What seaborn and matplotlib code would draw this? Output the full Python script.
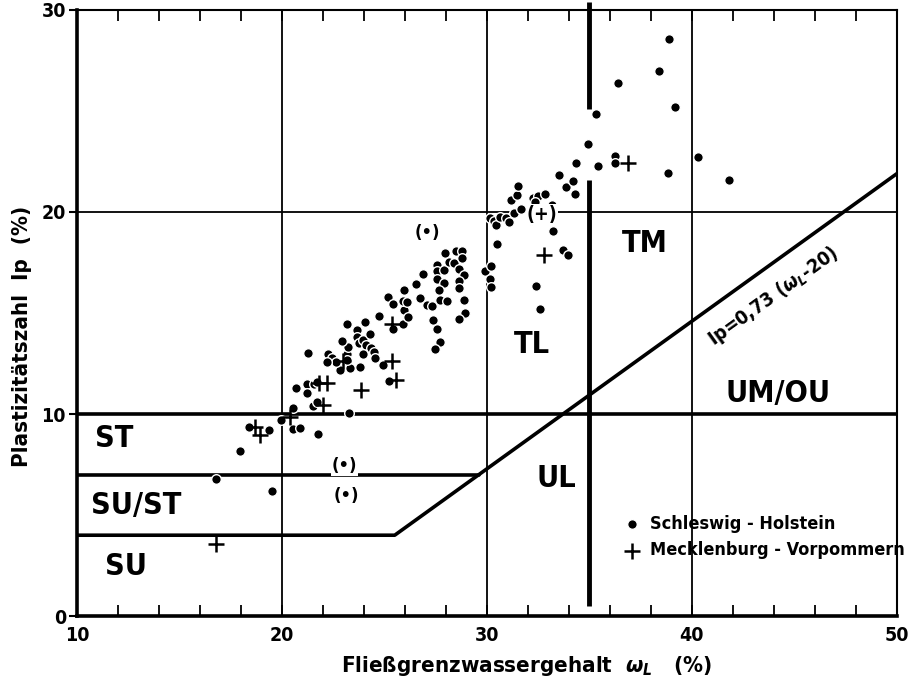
import matplotlib
matplotlib.use("Agg")
import matplotlib.pyplot as plt
import seaborn as sns
from matplotlib.ticker import MultipleLocator

# Schleswig-Holstein samples (dots): liquid limit wL (%) and plasticity index Ip (%)
sh_wl = [16.8, 17.95, 18.4, 19.35, 19.5, 19.97, 20.55, 20.55, 20.88, 21.76, 23.28,
         20.7, 21.2, 21.2, 21.25, 21.54, 21.73, 21.49, 21.73, 25.2, 24.94, 23.82,
         23.3, 22.84, 22.25, 22.43, 22.63, 22.22, 23.19, 23.19, 23.24, 22.95, 23.16,
         23.65, 23.68, 23.76, 24.04, 23.97, 24.29, 24.08, 24.33, 24.49, 24.52, 23.95,
         24.73, 25.19, 25.41, 25.41, 25.9, 25.95, 25.9, 26.11, 26.16, 25.95, 26.56,
         26.73, 26.89, 27.08, 27.33, 27.36, 27.54, 27.73, 27.46, 27.57, 27.57, 27.89,
         27.57, 27.92, 27.65, 27.73, 28.05, 27.97, 28.13, 28.41, 28.5, 28.78, 28.78,
         28.62, 28.9, 28.62, 28.62, 28.86, 28.91, 28.64, 29.92, 30.19, 30.15, 30.2,
         30.5, 32.38, 32.59, 33.7, 33.97, 33.21, 32.14, 30.16, 30.32, 30.45, 30.62,
         30.94, 31.1, 31.3, 31.67, 33.16, 32.24, 32.51, 32.35, 32.84, 31.17, 31.46,
         31.51, 34.3, 33.85, 34.2, 33.52, 34.34, 35.4, 36.23, 36.25, 38.82, 40.28,
         41.8, 34.95, 35.32, 36.38, 38.37, 38.9, 39.18]
sh_ip = [6.8, 8.15, 9.35, 9.2, 6.2, 9.7, 10.28, 9.28, 9.32, 9.03, 10.06,
         11.28, 11.5, 11.04, 13.02, 11.5, 11.6, 10.41, 10.61, 11.62, 12.44, 12.31,
         12.28, 12.16, 12.99, 12.77, 12.56, 12.56, 12.99, 12.69, 13.32, 13.6, 14.46,
         14.14, 13.8, 13.51, 14.54, 13.68, 13.98, 13.43, 13.27, 13.05, 12.77, 12.99,
         14.87, 15.78, 15.46, 14.22, 14.47, 15.16, 15.58, 15.53, 14.8, 16.12, 16.45,
         15.74, 16.93, 15.41, 15.33, 14.67, 14.21, 13.55, 13.22, 17.39, 17.06, 17.14,
         16.68, 16.49, 16.16, 15.66, 15.58, 17.97, 17.51, 17.48, 18.05, 18.09, 17.72,
         17.18, 16.9, 16.57, 16.24, 15.63, 15.0, 14.7, 17.08, 17.33, 16.67, 16.27,
         18.4, 16.34, 15.21, 18.1, 17.89, 19.06, 19.59, 19.7, 19.54, 19.37, 19.75,
         19.7, 19.5, 19.97, 20.17, 20.36, 20.71, 20.78, 20.5, 20.87, 20.58, 20.83,
         21.29, 20.9, 21.25, 21.55, 21.85, 22.45, 22.3, 22.75, 22.45, 21.95, 22.72,
         21.6, 23.35, 24.85, 26.4, 27.0, 28.55, 25.22]

# Mecklenburg-Vorpommern samples (crosses)
mv_wl = [16.8, 18.7, 18.95, 20.37, 21.8, 22.2, 22.0, 23.84, 25.38, 25.54, 25.35, 23.0, 32.79, 36.87]
mv_ip = [3.55, 9.35, 8.95, 9.85, 11.53, 11.55, 10.46, 11.2, 12.64, 11.7, 14.47, 12.6, 17.85, 22.45]

# values printed in brackets
sh_bracket_wl = [27.08, 23.05, 23.13]
sh_bracket_ip = [18.96, 7.43, 5.96]
mv_bracket_wl = [32.67]
mv_bracket_ip = [19.87]

# classification boundaries
a_line_wl = [10, 25.5, 50]
a_line_ip = [4, 4, 21.9]
su_st_wl = [10, 29.6]
su_st_ip = [7, 7]
st_wl = [10, 50]
st_ip = [10, 10]
wl35_low = [0.5, 25.1]
wl35_high = [21.6, 30.4]
grid_wl = [20, 30, 40]
grid_ip = [20]

zone_labels = ["ST", "SU/ST", "SU", "TL", "UL", "TM", "UM/OU"]
zone_wl = [11.8, 12.9, 12.4, 32.2, 33.4, 37.7, 44.2]
zone_ip = [8.8, 5.45, 2.45, 13.45, 6.8, 18.45, 11.0]

sns.set_style("white")
plt.rcParams['font.family'] = ['DejaVu Sans']
plt.rcParams['font.stretch'] = 'condensed'
plt.rcParams['font.weight'] = 'bold'
plt.rcParams['mathtext.fontset'] = 'dejavusans'
for key in ['text.color', 'axes.labelcolor', 'xtick.color', 'ytick.color']:
    plt.rcParams[key] = 'black'

fig = plt.figure(figsize=(9.09, 6.84), dpi=100)
ax = fig.add_axes([0.0847, 0.0994, 0.902, 0.886])

# grid and boundaries
ax.vlines(grid_wl, 0, 30, color='black', lw=1.3, zorder=1)
ax.hlines(grid_ip, 10, 50, color='black', lw=1.3, zorder=1)
ax.plot(st_wl, st_ip, color='black', lw=2.6, zorder=2)
ax.plot(su_st_wl, su_st_ip, color='black', lw=2.6, zorder=2)
ax.plot(a_line_wl, a_line_ip, color='black', lw=2.6, zorder=2)
ax.vlines([35, 35], wl35_low, wl35_high, color='black', lw=3.5, zorder=2, clip_on=False)

sns.scatterplot(x=sh_wl, y=sh_ip, marker='o', s=48, color='black', edgecolor='white',
                linewidth=1.0, ax=ax, label='Schleswig - Holstein', zorder=4)
sns.scatterplot(x=mv_wl, y=mv_ip, marker='+', s=130, color='black', linewidth=1.8,
                ax=ax, label='Mecklenburg - Vorpommern', zorder=4)

for w, ip in zip(sh_bracket_wl, sh_bracket_ip):
    ax.text(w, ip, "(•)", ha='center', va='center', fontsize=13, fontweight='bold',
            zorder=5, bbox=dict(fc='white', ec='none', pad=0.5))
for w, ip in zip(mv_bracket_wl, mv_bracket_ip):
    ax.text(w, ip, "(+)", ha='center', va='center', fontsize=14, fontweight='bold',
            zorder=5, bbox=dict(fc='white', ec='none', pad=0.5))

for lab, w, ip in zip(zone_labels, zone_wl, zone_ip):
    ax.text(w, ip, lab, ha='center', va='center', fontsize=22, fontweight='bold', zorder=3)

ax.text(43.95, 15.8, r"Ip=0,73 ($\omega_L$-20)", rotation=35.7, rotation_mode='anchor',
        ha='center', va='center', fontsize=14, fontweight='bold', zorder=3)

ax.set_xlim(10, 50)
ax.set_ylim(0, 30)
ax.xaxis.set_major_locator(MultipleLocator(10))
ax.xaxis.set_minor_locator(MultipleLocator(2))
ax.yaxis.set_major_locator(MultipleLocator(10))
ax.tick_params(axis='x', which='both', direction='in', length=8, width=1.3,
               top=True, bottom=True, labelsize=14, pad=7)
ax.tick_params(axis='y', which='major', direction='out', length=6, width=1.5,
               left=True, labelsize=14, pad=2)
for lbl in ax.get_xticklabels() + ax.get_yticklabels():
    lbl.set_fontweight('bold')

for side, lw in [('left', 2.6), ('bottom', 2.6), ('top', 1.5), ('right', 1.5)]:
    ax.spines[side].set_linewidth(lw)
    ax.spines[side].set_color('black')

ax.set_xlabel(r"Fließgrenzwassergehalt  $\omega_L$   (%)", fontsize=16, fontweight='bold')
ax.set_ylabel("Plastizitätszahl  Ip  (%)", fontsize=16, fontweight='bold')
ax.xaxis.set_label_coords(0.548, -0.062)
ax.yaxis.set_label_coords(-0.055, 0.462)

ax.legend(loc='center left', bbox_to_anchor=(0.655, 0.13), frameon=False,
          handletextpad=0.4, labelspacing=0.45, borderaxespad=0, handlelength=1.2,
          prop=dict(size=13, weight='bold', stretch='condensed'))

fig.savefig("out.png", dpi=100)
